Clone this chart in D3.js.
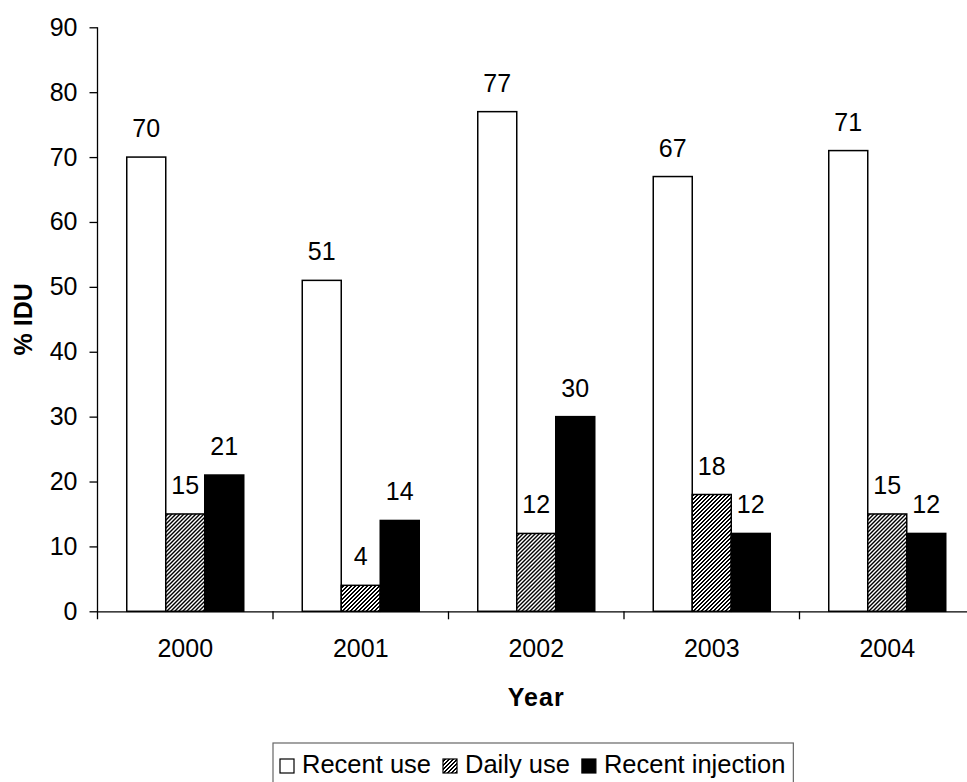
<!DOCTYPE html>
<html>
<head>
<meta charset="utf-8">
<script src="https://cdn.jsdelivr.net/npm/d3@7"></script>
<style>
  html, body { margin: 0; padding: 0; background: #fff; }
  svg { display: block; font-family: "Liberation Sans", Arial, sans-serif; }
</style>
</head>
<body>
<svg id="chart" width="967" height="782"></svg>
<script>
// ---- Data ----
const years = ["2000", "2001", "2002", "2003", "2004"];
const seriesNames = ["Recent use", "Daily use", "Recent injection"];
const recentUse = [70, 51, 77, 67, 71];
const dailyUse = [15, 4, 12, 18, 15];
const recentInjection = [21, 14, 30, 12, 12];
const yTicks = [0, 10, 20, 30, 40, 50, 60, 70, 80, 90];
const xTitle = "Year";
const yTitle = "% IDU";

const seriesValues = [recentUse, dailyUse, recentInjection];

// ---- Layout ----
const svg = d3.select("#chart");
const pLeft = 97.5, pRight = 975, pTop = 27.3, pBottom = 611.3;

const defs = svg.append("defs");
const pat = defs.append("pattern")
  .attr("id", "hatch")
  .attr("patternUnits", "userSpaceOnUse")
  .attr("width", 4).attr("height", 4);
pat.append("rect").attr("width", 4).attr("height", 4).attr("fill", "#fff");
// pixel-aligned upward diagonal hatch (2px wide lines every 4px)
[[0, 3], [1, 2], [2, 1], [3, 0], [1, 3], [2, 2], [3, 1], [0, 0]].forEach(([px, py]) => {
  pat.append("rect").attr("x", px).attr("y", py).attr("width", 1).attr("height", 1)
    .attr("fill", "#000").attr("shape-rendering", "crispEdges");
});

const fills = ["#fff", "url(#hatch)", "#000"];

const x0 = d3.scaleBand().domain(years).range([pLeft, pRight]).paddingInner(0).paddingOuter(0);
const x1 = d3.scaleBand().domain(seriesNames).range([0, x0.bandwidth()]).paddingOuter(0.75).paddingInner(0);
const y = d3.scaleLinear().domain([0, 90]).range([pBottom, pTop]);

// y axis
const yAxis = d3.axisLeft(y).tickValues(yTicks).tickSize(8).tickPadding(12).tickSizeOuter(0);
const gy = svg.append("g").attr("transform", `translate(${pLeft},0)`).call(yAxis);
gy.select(".domain").attr("stroke", "#000").attr("stroke-width", 1.3).attr("d", `M0,${pTop}V${pBottom + 8}`);
gy.selectAll(".tick line").attr("stroke", "#000").attr("stroke-width", 1.3);
gy.selectAll(".tick text").attr("fill", "#000").attr("font-size", 25)
  .attr("font-family", "Liberation Sans, Arial, sans-serif");

// bars
const groups = svg.append("g").selectAll("g").data(years).join("g")
  .attr("transform", d => `translate(${x0(d)},0)`);

groups.selectAll("rect").data((d, i) => seriesNames.map((s, j) => ({ s, v: seriesValues[j][i], j })))
  .join("rect")
  .attr("x", d => x1(d.s))
  .attr("width", x1.bandwidth())
  .attr("y", d => y(d.v))
  .attr("height", d => y(0) - y(d.v))
  .attr("fill", d => fills[d.j])
  .attr("stroke", "#000")
  .attr("stroke-width", 1.5);

groups.selectAll("text").data((d, i) => seriesNames.map((s, j) => ({ s, v: seriesValues[j][i], j })))
  .join("text")
  .attr("x", d => x1(d.s) + x1.bandwidth() / 2)
  .attr("y", d => y(d.v) - 20)
  .attr("text-anchor", "middle")
  .attr("font-size", 25)
  .attr("fill", "#000")
  .text(d => d.v);

// x axis
const xAxis = d3.axisBottom(x0).tickSize(0).tickPadding(28).tickSizeOuter(0);
const gx = svg.append("g").attr("transform", `translate(0,${pBottom})`).call(xAxis);
gx.select(".domain").attr("stroke", "#000").attr("stroke-width", 1.3);
gx.selectAll(".tick text").attr("fill", "#000").attr("font-size", 25)
  .attr("font-family", "Liberation Sans, Arial, sans-serif");
// category boundary ticks
gx.selectAll(".bound").data(years.slice(1)).join("line")
  .attr("class", "bound")
  .attr("x1", d => x0(d)).attr("x2", d => x0(d))
  .attr("y1", 0).attr("y2", 8)
  .attr("stroke", "#000").attr("stroke-width", 1.3);

// axis titles
svg.append("text")
  .attr("x", (pLeft + pRight) / 2).attr("y", 706)
  .attr("text-anchor", "middle")
  .attr("font-size", 25).attr("font-weight", "bold")
  .attr("letter-spacing", 1)
  .attr("fill", "#000")
  .text(xTitle);

svg.append("text")
  .attr("transform", `translate(32,${(pTop + pBottom) / 2}) rotate(-90)`)
  .attr("text-anchor", "middle")
  .attr("font-size", 25).attr("font-weight", "bold")
  .attr("fill", "#000")
  .text(yTitle);

// legend
const legend = svg.append("g");
const lgBox = legend.append("rect")
  .attr("y", 743).attr("height", 40)
  .attr("fill", "#fff").attr("stroke", "#666").attr("stroke-width", 1.2);
const lgStart = 280;
let cx = lgStart;
seriesNames.forEach((name, j) => {
  legend.append("rect")
    .attr("x", cx).attr("y", 759).attr("width", 14).attr("height", 14)
    .attr("fill", fills[j]).attr("stroke", "#000").attr("stroke-width", 1.2);
  const t = legend.append("text")
    .attr("x", cx + 22).attr("y", 773)
    .attr("font-size", 25.5).attr("fill", "#000")
    .text(name);
  cx = cx + 22 + t.node().getComputedTextLength() + 12;
});
lgBox.attr("x", lgStart - 7).attr("width", cx - 12 + 8 - (lgStart - 7));
</script>
</body>
</html>
